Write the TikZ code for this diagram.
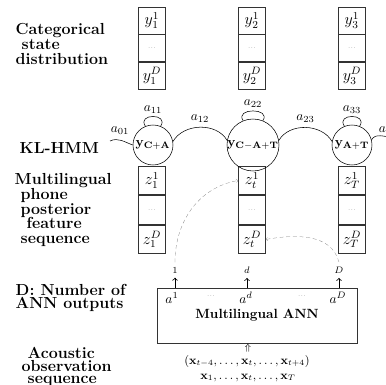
\documentclass[tikz,border=0pt]{standalone}
\usetikzlibrary{positioning}
\begin{document}
\begin{tikzpicture}[x=0.75pt,y=0.75pt,
  ycell/.style={draw=black!80,semithick,minimum width=20.25pt,minimum height=20.25pt,inner sep=0pt,font=\large},
  zcell/.style={ycell,minimum height=21.5pt},
  hmmstate/.style={draw,circle,minimum size=30pt,inner sep=0pt},
  side/.style={align=left,anchor=west,font={\bfseries\fontsize{12}{11.1}\selectfont}},
  sidelow/.style={side,font={\bfseries\fontsize{12}{9.6}\selectfont}},
  feed/.style={->,densely dashed,gray,very thin}]
\useasboundingbox (0,0) rectangle (386,-385);
\node[side] (lcat) at (11,-44) {Categorical\\\ state\\distribution};
\node[side] (lhmm) at (15,-148) {KL-HMM};
\node[side] (lfeat) at (10,-210) {Multilingual\\\ phone\\\ posterior\\\ \ feature\\\ sequence};
\node[sidelow] (lnum) at (11,-298) {D: Number of\\ANN outputs};
\node[sidelow] (lobs) at (17,-367) {\ Acoustic\\observation\\\ sequence};
\foreach \i/\x/\s in {1/152/1,2/252/2,3/352/3}{
  \node[ycell] (y\i a) at (\x,-20.5) {$y_{\s}^{1}$};
  \node[ycell,below=0pt of y\i a] (y\i b) {\tiny\color{gray}...};
  \node[ycell,below=0pt of y\i b] (y\i c) {$y_{\s}^{D}$};
}
\foreach \i/\x/\s in {1/152/1,2/252/t,3/352/T}{
  \node[zcell] (z\i a) at (\x,-180.5) {$z_{\s}^{1}$};
  \node[zcell,below=0pt of z\i a] (z\i b) {\tiny\color{gray}...};
  \node[zcell,below=0pt of z\i b] (z\i c) {$z_{\s}^{D}$};
}
\node[hmmstate] (s1) at (153,-145) {$\mathbf{y}_{\mathbf{C+A}}$};
\node[hmmstate] (s2) at (253,-145) {$\mathbf{y}_{\mathbf{C-A+T}}$};
\node[hmmstate] (s3) at (352,-145) {$\mathbf{y}_{\mathbf{A+T}}$};
\foreach \i in {1,2,3}{
  \draw (s\i.112) .. controls +(-9,13) and +(9,13) .. node[above=-1pt]{$a_{\i\i}$} (s\i.68);
}
\coordinate (hin) at (110,-141);
\coordinate (hout) at (392,-137);
\draw (hin) to[out=25,in=160] (s1.west);
\node at (120,-131) {$a_{01}$};
\draw (s1.10) to[out=60,in=120] node[above]{$a_{12}$} (s2.170);
\draw (s2.10) to[out=60,in=120] node[above]{$a_{23}$} (s3.170);
\draw (s3.15) to[out=60,in=180] (hout);
\node at (388,-131) {$a_{34}$};
\node[draw=black!80,semithick,minimum width=150pt,minimum height=41.25pt,font=\bfseries] (ann) at (257,-315.5) {Multilingual ANN};
\node (o1) at (172,-298) {$a^{1}$};
\node at (211,-296) {\tiny\color{gray}...};
\node (od) at (246,-298) {$a^{d}$};
\node at (302,-296) {\tiny\color{gray}...};
\node (oD) at (338,-298) {$a^{D}$};
\node[font=\scriptsize] (n1) at (175,-270) {$1$};
\node[font=\scriptsize] (nd) at (247,-270) {$d$};
\node[font=\scriptsize] (nD) at (339,-270) {$D$};
\foreach \n in {n1,nd,nD}{
  \draw[->,semithick] (ann.north -| \n) -- (\n.south);
}
\draw[feed] (n1.north) to[out=90,in=190] (z2a.west);
\draw[feed] (nD.north) to[out=105,in=10] (z2c.east);
\node[font=\scriptsize] (up) at (248,-348) {$\Uparrow$};
\node[font=\small] (xwin) at (247,-361) {$(\mathbf{x}_{t-4},\ldots,\mathbf{x}_{t},\ldots,\mathbf{x}_{t+4})$};
\node[font=\small] (xseq) at (248,-378) {$\mathbf{x}_{1},\ldots,\mathbf{x}_{t},\ldots,\mathbf{x}_{T}$};
\end{tikzpicture}
\end{document}
